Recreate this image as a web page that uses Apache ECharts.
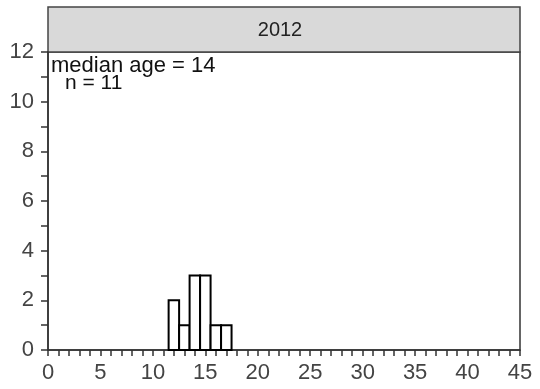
<!DOCTYPE html>
<html>
<head>
<meta charset="utf-8">
<script src="https://cdn.jsdelivr.net/npm/echarts@6/dist/echarts.min.js"></script>
<style>
  html, body { margin: 0; padding: 0; background: #fff; }
  #chart { width: 540px; height: 389px; }
</style>
</head>
<body>
<div id="chart"></div>
<script>
// Age histogram for 2012, one-year bins centred on each age
const panelTitle = '2012';
const ages = [12, 13, 14, 15, 16, 17];
const counts = [2, 1, 3, 3, 1, 1];
const medianAge = 14;
const sampleSize = 11;
const xTicks = [0, 5, 10, 15, 20, 25, 30, 35, 40, 45];
const yTicks = [0, 2, 4, 6, 8, 10, 12];

const bins = ages.map((a, i) => [a, counts[i]]);
const labelColor = '#444';
const axisColor = '#333';
const fontFamily = '"Liberation Sans", Arial, sans-serif';

const chart = echarts.init(document.getElementById('chart'), null, { renderer: 'canvas' });

chart.setOption({
  animation: false,
  backgroundColor: '#fff',
  grid: { left: 48, right: 20, top: 52, bottom: 39, show: true, borderColor: axisColor, borderWidth: 1.5, backgroundColor: 'transparent' },
  xAxis: {
    type: 'value',
    min: xTicks[0],
    max: xTicks[xTicks.length - 1],
    interval: 5,
    axisLine: { show: true, onZero: false, lineStyle: { color: axisColor, width: 1.5 } },
    axisTick: { show: true, inside: false, length: 6, lineStyle: { color: axisColor, width: 1.5 } },
    minorTick: { show: true, splitNumber: 5, length: 6, lineStyle: { color: axisColor, width: 1.5 } },
    axisLabel: { color: labelColor, fontSize: 22, fontFamily, margin: 12 },
    splitLine: { show: false }
  },
  yAxis: {
    type: 'value',
    min: yTicks[0],
    max: yTicks[yTicks.length - 1],
    interval: 2,
    axisLine: { show: true, onZero: false, lineStyle: { color: axisColor, width: 1.5 } },
    axisTick: { show: true, inside: false, length: 7, lineStyle: { color: axisColor, width: 1.5 } },
    minorTick: { show: true, splitNumber: 2, length: 7, lineStyle: { color: axisColor, width: 1.5 } },
    axisLabel: { color: labelColor, fontSize: 22, fontFamily, margin: 14 },
    splitLine: { show: false }
  },
  graphic: [
    {
      type: 'rect',
      shape: { x: 48, y: 7, width: 472, height: 45 },
      style: { fill: '#d9d9d9', stroke: '#444', lineWidth: 1.5 },
      z: 0
    },
    {
      type: 'text',
      x: 280, y: 30,
      style: { text: panelTitle, fill: '#222', fontSize: 20, fontFamily, align: 'center', verticalAlign: 'middle' },
      z: 1
    },
    {
      type: 'text',
      x: 51, y: 66,
      style: { text: 'median age = ' + medianAge, fill: '#111', fontSize: 22, fontFamily, align: 'left', verticalAlign: 'middle' },
      z: 1
    },
    {
      type: 'text',
      x: 65, y: 83,
      style: { text: 'n = ' + sampleSize, fill: '#111', fontSize: 21, fontFamily, align: 'left', verticalAlign: 'middle' },
      z: 1
    }
  ],
  series: [{
    type: 'custom',
    data: bins,
    renderItem: function (params, api) {
      const x = api.value(0);
      const y = api.value(1);
      const p0 = api.coord([x - 0.5, y]);
      const p1 = api.coord([x + 0.5, 0]);
      return {
        type: 'rect',
        shape: { x: p0[0], y: p0[1], width: p1[0] - p0[0], height: p1[1] - p0[1] },
        style: { fill: '#fff', stroke: '#000', lineWidth: 2 }
      };
    },
    z: 3
  }]
});
</script>
</body>
</html>
